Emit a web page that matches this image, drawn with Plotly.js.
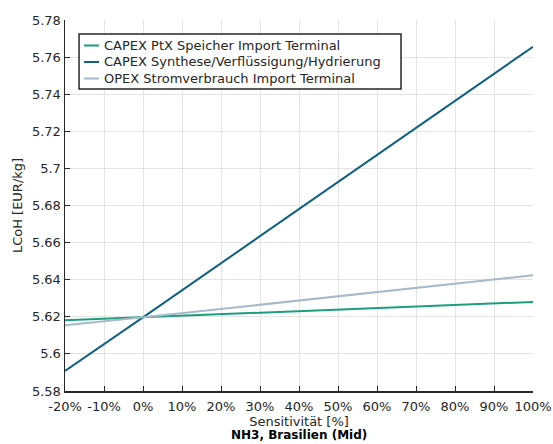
<!DOCTYPE html>
<html>
<head>
<meta charset="utf-8">
<script src="https://cdn.plot.ly/plotly-3.0.1.min.js"></script>
<style>
  html, body { margin: 0; padding: 0; background: #fff; }
  #chart { width: 553px; height: 444px; }
</style>
</head>
<body>
<div id="chart"></div>
<script>
// Sensitivity of LCoH to cost parameter changes (percent)
const sensitivity = [-20, 0, 100];

const seriesNames = [
  'CAPEX PtX Speicher Import Terminal',
  'CAPEX Synthese/Verflüssigung/Hydrierung',
  'OPEX Stromverbrauch Import Terminal'
];
const capexSpeicher = [5.6181, 5.6197, 5.6280];
const capexSynthese = [5.5908, 5.6197, 5.7656];
const opexStrom     = [5.6154, 5.6197, 5.6424];

const seriesColors = ['#1b9e7c', '#10607f', '#a5b9c8'];

const xTickVals = [-20, -10, 0, 10, 20, 30, 40, 50, 60, 70, 80, 90, 100];
const xTickText = ['-20%', '-10%', '0%', '10%', '20%', '30%', '40%', '50%', '60%', '70%', '80%', '90%', '100%'];
const yTickVals = [5.58, 5.6, 5.62, 5.64, 5.66, 5.68, 5.7, 5.72, 5.74, 5.76, 5.78];
const yTickText = ['5.58', '5.6', '5.62', '5.64', '5.66', '5.68', '5.7', '5.72', '5.74', '5.76', '5.78'];

const allSeries = [capexSpeicher, capexSynthese, opexStrom];
const traces = allSeries.map((vals, i) => ({
  x: sensitivity,
  y: vals,
  type: 'scatter',
  mode: 'lines',
  name: seriesNames[i],
  showlegend: false,
  line: { color: seriesColors[i], width: 2 }
}));

const font = { family: 'DejaVu Sans, sans-serif', size: 13, color: '#262626' };

// Compact boxed legend in the upper left, drawn in paper coordinates
const legendBox = { x0: 0.030, x1: 0.718, y0: 0.814, y1: 0.962 };
const legendRowY = [0.9313, 0.8868, 0.8423];
const legendShapes = [{
  type: 'rect', xref: 'paper', yref: 'paper',
  x0: legendBox.x0, x1: legendBox.x1, y0: legendBox.y0, y1: legendBox.y1,
  fillcolor: '#ffffff', line: { color: '#262626', width: 1.5 }, layer: 'above'
}];
const legendNotes = [];
seriesNames.forEach((name, i) => {
  legendShapes.push({
    type: 'line', xref: 'paper', yref: 'paper',
    x0: 0.0406, x1: 0.0726, y0: legendRowY[i], y1: legendRowY[i],
    line: { color: seriesColors[i], width: 2 }, layer: 'above'
  });
  legendNotes.push({
    text: name, xref: 'paper', yref: 'paper',
    x: 0.0795, y: legendRowY[i], xanchor: 'left', yanchor: 'middle',
    showarrow: false, font: font
  });
});

const layout = {
  width: 553,
  height: 444,
  margin: { l: 65, r: 20, t: 20, b: 53 },
  paper_bgcolor: '#ffffff',
  plot_bgcolor: '#ffffff',
  font: font,
  showlegend: false,
  xaxis: {
    range: [-20, 100],
    tickvals: xTickVals,
    ticktext: xTickText,
    ticks: 'inside',
    ticklen: 5,
    tickcolor: '#262626',
    ticklabelstandoff: 3,
    showline: true,
    linecolor: '#262626',
    linewidth: 1.5,
    mirror: false,
    showgrid: true,
    gridcolor: '#e3e3e3',
    zeroline: false,
    tickfont: font,
    title: { text: 'Sensitivität [%]', font: font, standoff: 4 }
  },
  yaxis: {
    range: [5.58, 5.78],
    tickvals: yTickVals,
    ticktext: yTickText,
    ticks: 'inside',
    ticklen: 5,
    tickcolor: '#262626',
    showline: true,
    linecolor: '#262626',
    linewidth: 1.5,
    mirror: false,
    showgrid: true,
    gridcolor: '#e3e3e3',
    zeroline: false,
    tickfont: font,
    title: { text: 'LCoH [EUR/kg]', font: font, standoff: 6 }
  },
  shapes: legendShapes,
  annotations: legendNotes.concat([{
    text: '<b>NH3, Brasilien (Mid)</b>',
    xref: 'paper', yref: 'paper',
    x: 0.5, y: 0, yshift: -35,
    xanchor: 'center', yanchor: 'top',
    showarrow: false,
    font: { family: 'DejaVu Sans, sans-serif', size: 12, color: '#000000' }
  }])
};

Plotly.newPlot('chart', traces, layout, { displayModeBar: false, staticPlot: true });
</script>
</body>
</html>
